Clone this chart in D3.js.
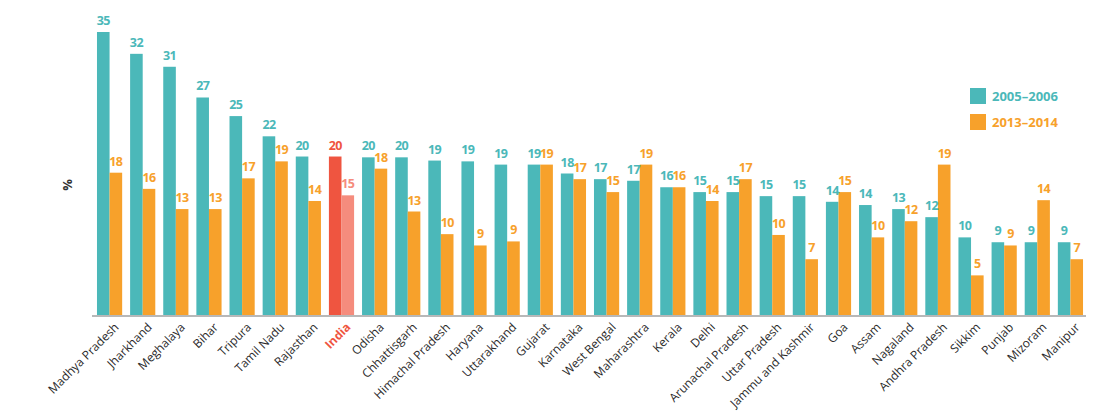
<!DOCTYPE html>
<html><head><meta charset="utf-8">
<script src="https://cdn.jsdelivr.net/npm/d3@7"></script>
<style>
html,body{margin:0;padding:0;background:#fff;}
svg{display:block;font-family:"Open Sans","Noto Sans",sans-serif;}
</style></head>
<body><svg id="chart" width="1099" height="414"></svg>
<script>
const categories = ["Madhya Pradesh","Jharkhand","Meghalaya","Bihar","Tripura","Tamil Nadu","Rajasthan","India","Odisha","Chhattisgarh","Himachal Pradesh","Haryana","Uttarakhand","Gujarat","Karnataka","West Bengal","Maharashtra","Kerala","Delhi","Arunachal Pradesh","Uttar Pradesh","Jammu and Kashmir","Goa","Assam","Nagaland","Andhra Pradesh","Sikkim","Punjab","Mizoram","Manipur"];
const values2005 = [35.0,32.3,30.7,26.9,24.6,22.1,19.6,19.6,19.5,19.5,19.1,19.0,18.6,18.6,17.5,16.8,16.6,15.8,15.2,15.2,14.7,14.7,14.0,13.6,13.1,12.1,9.6,9.0,9.0,9.0];
const values2013 = [17.6,15.6,13.1,13.1,16.9,19.0,14.1,14.8,18.1,12.8,10.0,8.6,9.1,18.6,16.8,15.2,18.6,15.8,14.1,16.8,9.9,6.9,15.2,9.6,11.6,18.6,4.9,8.6,14.2,6.9];
const seriesNames = ["2005\u20132006","2013\u20132014"];
const colors = ["#4bb8b9","#f7a12b"];
const highlight = "India";
const highlightColors = ["#ef5540","#f58c7d"];

const svg = d3.select("#chart");
const x0 = d3.scaleBand().domain(categories).range([93,1087]).paddingInner(0.24).paddingOuter(0.12);
const x1 = d3.scaleBand().domain([0,1]).range([0,x0.bandwidth()]);
const y = d3.scaleLinear().domain([0,35]).range([315,32]);

const data = categories.map((c,i)=>({cat:c, vals:[values2005[i],values2013[i]]}));

const g = svg.append("g");
const groups = g.selectAll("g.grp").data(data).enter().append("g")
  .attr("transform",d=>`translate(${x0(d.cat)},0)`);

groups.selectAll("rect").data(d=>d.vals.map((v,k)=>({v,k,cat:d.cat}))).enter().append("rect")
  .attr("x",d=>x1(d.k)).attr("width",x1.bandwidth())
  .attr("y",d=>y(d.v)).attr("height",d=>y(0)-y(d.v))
  .attr("fill",d=>d.cat===highlight?highlightColors[d.k]:colors[d.k]);

groups.selectAll("text.val").data(d=>d.vals.map((v,k)=>({v,k,cat:d.cat}))).enter().append("text")
  .attr("class","val")
  .attr("x",d=>x1(d.k)+x1.bandwidth()/2).attr("y",d=>y(d.v)-7)
  .attr("text-anchor","middle").attr("font-size",12.5).attr("font-weight","bold")
  .attr("letter-spacing","-0.6")
  .attr("fill",d=>d.cat===highlight?highlightColors[d.k]:colors[d.k])
  .text(d=>Math.round(d.v));

// x axis
const xAxis = d3.axisBottom(x0).tickSize(0).tickPadding(0);
const ax = svg.append("g").attr("transform","translate(0,316)").call(xAxis);
ax.select(".domain").attr("stroke","#a0a0a0").attr("stroke-width",1.5).attr("d","M92,0H1086");
ax.selectAll(".tick text")
  .attr("font-family","'Open Sans','Noto Sans',sans-serif")
  .attr("font-size",12).attr("fill",d=>d===highlight?"#ef5540":"#2a2a2a")
  .attr("font-weight",d=>d===highlight?"bold":"normal")
  .attr("text-anchor","end")
  .attr("transform","translate(7,9) rotate(-45)")
  .attr("dy","0.35em").attr("y",0).attr("x",0);

// y label
svg.append("text").attr("transform","translate(72,185) rotate(-90)")
  .attr("text-anchor","middle").attr("font-size",13).attr("font-weight","bold").attr("fill","#333")
  .text("%");

// legend
const lg = svg.append("g").attr("transform","translate(970,88)");
seriesNames.forEach((s,i)=>{
  lg.append("rect").attr("x",0).attr("y",i*26).attr("width",16).attr("height",16).attr("fill",colors[i]);
  lg.append("text").attr("x",22).attr("y",i*26+13).attr("font-size",13).attr("font-weight","bold")
    .attr("fill",colors[i]).text(s);
});
</script></body></html>
